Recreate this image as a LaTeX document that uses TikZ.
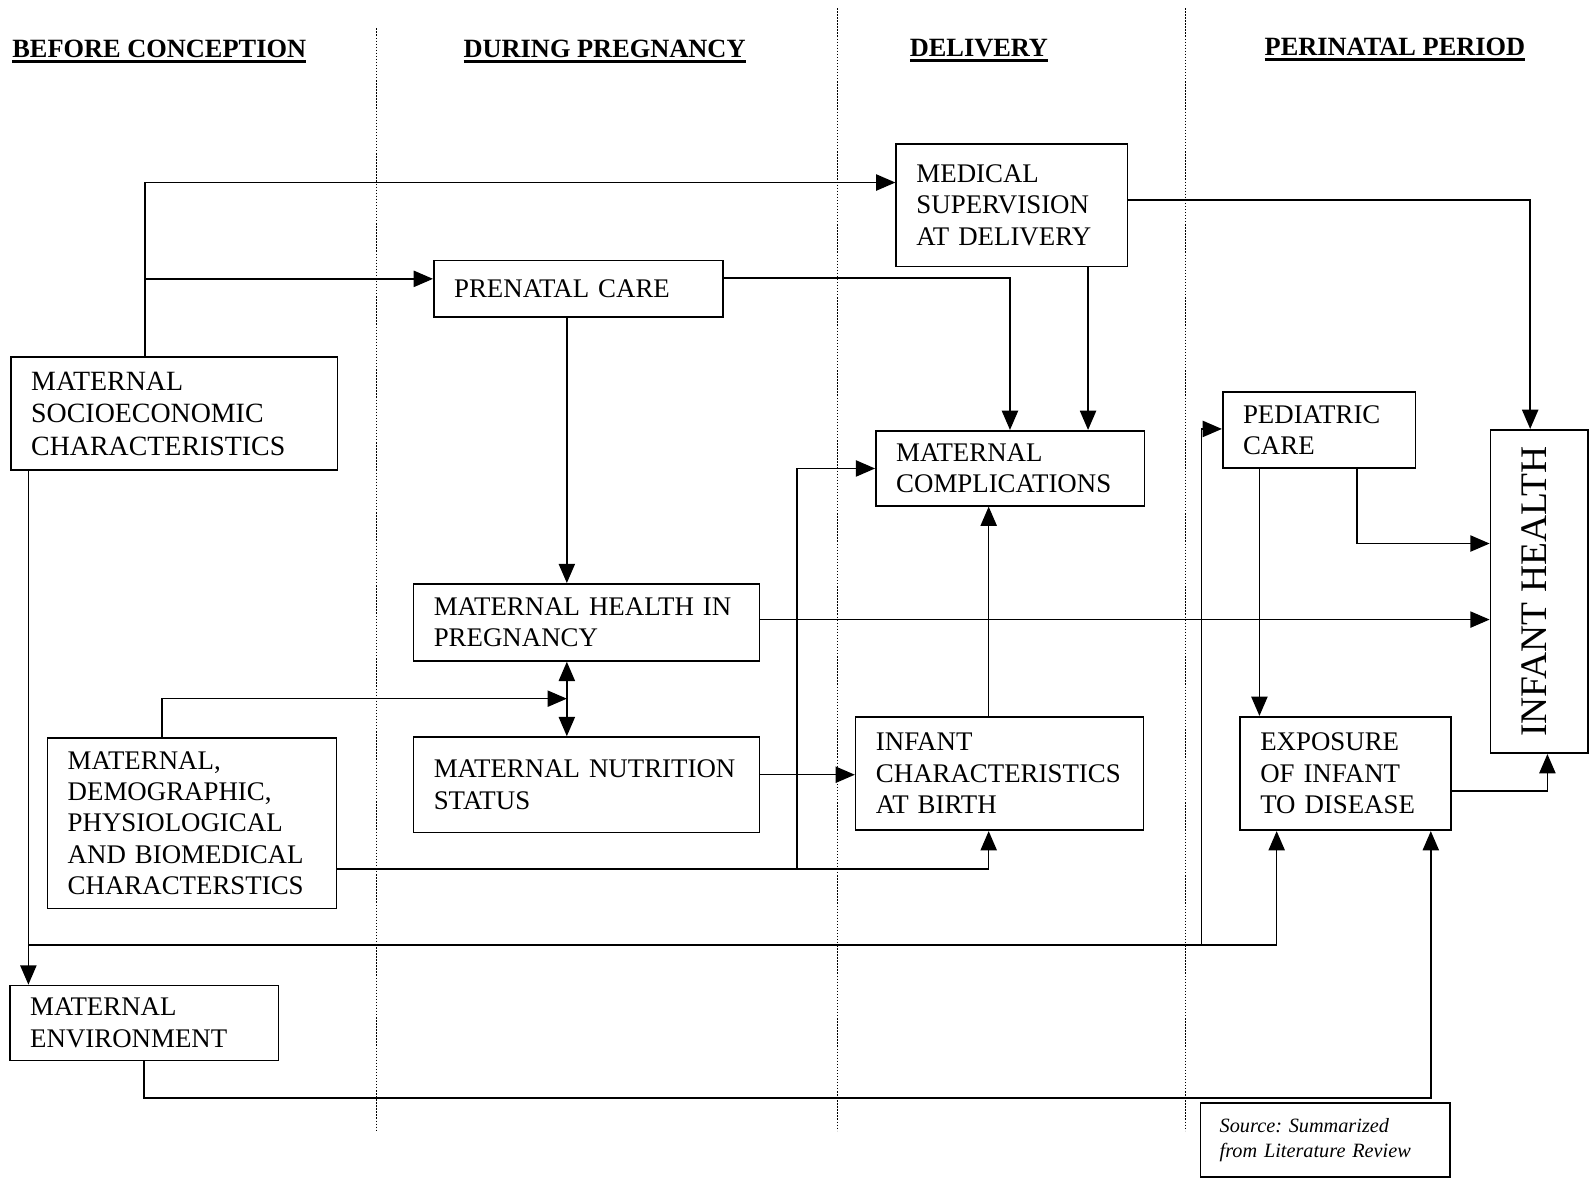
\documentclass[tikz,border=0pt]{standalone}
\usepackage{fontspec}
\setmainfont{Liberation Serif}
\usetikzlibrary{arrows.meta,calc}
\newcommand\ulhead[1]{\vtop{\hbox{#1}\kern2pt\hrule height 2.6pt}}
\frenchspacing
\begin{document}
\begin{tikzpicture}[x=1pt,y=-1pt,
  box/.style={draw,line width=1.6pt,rectangle,anchor=north west,align=left,inner xsep=20pt,inner ysep=2pt,
    font=\fontsize{26.5}{31}\selectfont},
  conn/.style={line width=1.5pt},
  arr/.style={conn,-{Triangle[length=19pt,width=16pt]}},
  darr/.style={conn,{Triangle[length=19pt,width=16pt]}-{Triangle[length=19pt,width=16pt]}},
  divider/.style={line width=0.9pt,dash pattern=on 1.4pt off 1.6pt},
  head/.style={anchor=base west,inner sep=0pt,font=\fontsize{26}{30}\selectfont\bfseries}]
\useasboundingbox (0,0) rectangle (1568,1161);
\fill[white] (0,0) rectangle (1568,1161);

% period dividers
\draw[divider] (371,28) -- (371,1115);
\draw[divider] (826,8) -- (826,1115);
\draw[divider] (1169,8) -- (1169,1115);

% headers
\node[head] (h1) at (12,57) {\ulhead{BEFORE CONCEPTION}};
\node[head] (h2) at (457,57) {\ulhead{DURING PREGNANCY}};
\node[head] (h3) at (897,56) {\ulhead{DELIVERY}};
\node[head] (h4) at (1247,55) {\ulhead{PERINATAL PERIOD}};

% boxes
\node[box,text width=188pt,minimum height=121pt] (med) at (883,141) {MEDICAL\\SUPERVISION\\AT DELIVERY};
\node[box,text width=245pt,minimum height=56pt] (pre) at (427,256) {PRENATAL CARE};
\node[box,text width=282pt,minimum height=112pt,font=\fontsize{27.5}{32}\selectfont] (soc) at (10,351) {MATERNAL\\SOCIOECONOMIC\\CHARACTERISTICS};
\node[box,text width=225pt,minimum height=74pt] (mc) at (863,424) {MATERNAL\\COMPLICATIONS};
\node[box,text width=150pt,minimum height=75pt] (ped) at (1205,386) {PEDIATRIC\\CARE};
\node[box,text width=56pt,minimum height=319pt] (ih) at (1469,423) {};
\node[rotate=90,inner sep=0pt,font=\fontsize{37}{40}\selectfont] (iht) at ($(ih.center)+(-5,0)$) {INFANT HEALTH};
\node[box,text width=301pt,minimum height=76pt] (mhp) at (407,575) {MATERNAL HEALTH IN\\PREGNANCY};
\node[box,text width=301pt,minimum height=94pt] (mns) at (407,726) {MATERNAL NUTRITION\\STATUS\\[18pt]};
\node[box,text width=245pt,minimum height=168pt] (dem) at (46,727) {MATERNAL,\\DEMOGRAPHIC,\\PHYSIOLOGICAL\\AND BIOMEDICAL\\CHARACTERSTICS};
\node[box,text width=244pt,minimum height=112pt] (icb) at (843,706) {INFANT\\CHARACTERISTICS\\AT BIRTH};
\node[box,text width=168pt,minimum height=112pt] (exp) at (1222,706) {EXPOSURE\\OF INFANT\\TO DISEASE};
\node[box,text width=225pt,minimum height=74pt] (env) at (9,971) {MATERNAL\\ENVIRONMENT};
\node[box,text width=208pt,minimum height=73pt,inner xsep=19pt,font=\fontsize{20}{24}\selectfont\itshape] (src) at (1183,1087) {Source: Summarized\\from Literature Review\\[4pt]};

% junction points
\coordinate (j1) at (143,275);
\coordinate (j2) at (559,689);
\coordinate (j3) at (786,857);
\coordinate (j4) at (28,932);
\coordinate (j5) at (1185,932);

% connectors
\draw[arr] ($(soc.north west)+(133,0)$) |- ($(med.north west)+(0,39)$);
\draw[arr] (j1) -- ($(pre.north west)+(0,19)$);
\draw[arr] ($(pre.north east)+(0,18)$) -| ($(mc.north west)+(133,0)$);
\draw[arr] ($(med.south west)+(190,0)$) -- ($(mc.north west)+(210,0)$);
\draw[arr] ($(med.north east)+(0,56)$) -| ($(ih.north west)+(40,0)$);
\draw[arr] ($(pre.south west)+(132,0)$) -- ($(mhp.north west)+(152,0)$);
\draw[darr] ($(mhp.south west)+(152,0)$) -- ($(mns.north west)+(152,0)$);
\draw[arr] ($(dem.north west)+(114,0)$) |- (j2);
\draw[arr] ($(mhp.north east)+(0,36)$) -- ($(ih.north west)+(0,188)$);
\draw[arr] ($(mns.north east)+(0,38)$) -- ($(icb.north west)+(0,58)$);
\draw[arr] ($(dem.north east)+(0,130)$) -| ($(icb.south west)+(132,0)$);
\draw[arr] (j3) |- ($(mc.north west)+(0,38)$);
\draw[arr] ($(icb.north west)+(132,0)$) -- ($(mc.south west)+(112,0)$);
\draw[arr] ($(soc.south west)+(18,0)$) -- ($(env.north west)+(19,0)$);
\draw[arr] (j4) -| ($(exp.south west)+(37,0)$);
\draw[arr] (j5) |- ($(ped.north west)+(0,37)$);
\draw[arr] ($(env.south west)+(133,0)$) |- ($(exp.south west)+(189,263)$) -- ($(exp.south west)+(189,0)$);
\draw[arr] ($(ped.south west)+(37,0)$) -- ($(exp.north west)+(20,0)$);
\draw[arr] ($(ped.south west)+(133,0)$) |- ($(ih.north west)+(0,113)$);
\draw[arr] ($(exp.north east)+(0,74)$) -| ($(ih.south west)+(57,0)$);
\end{tikzpicture}
\end{document}
